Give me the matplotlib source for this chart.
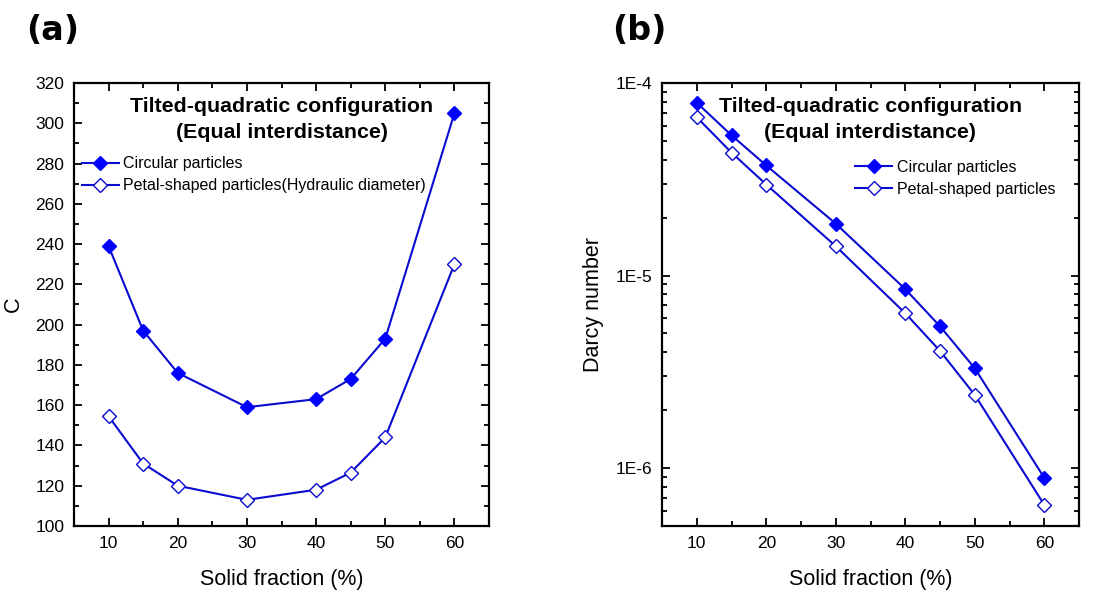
import numpy as np
import matplotlib
matplotlib.use("Agg")
import matplotlib.pyplot as plt
from matplotlib.ticker import MultipleLocator, FixedLocator, FuncFormatter, LogLocator, NullFormatter

plt.rcParams['font.family'] = ['Liberation Sans', 'DejaVu Sans']

# data
solid_fraction = [10, 15, 20, 30, 40, 45, 50, 60]
c_circular = [239, 197, 176, 159, 163, 173, 193, 305]
c_petal = [154.5, 131, 120, 113, 118, 126.5, 144, 230]
da_circular = [7.9e-5, 5.35e-5, 3.73e-5, 1.86e-5, 8.5e-6, 5.45e-6, 3.3e-6, 8.9e-7]
da_petal = [6.64e-5, 4.35e-5, 2.97e-5, 1.42e-5, 6.37e-6, 4.06e-6, 2.40e-6, 6.44e-7]

title_txt = "Tilted-quadratic configuration\n(Equal interdistance)"
line_col = "#0a0ad0"
fill_col = "#0000ff"

fig = plt.figure(figsize=(11.16, 5.91), dpi=100)
W, H = 1116, 591
ax1 = fig.add_axes([74 / W, 1 - 526 / H, (489 - 74) / W, (526 - 83) / H])
ax2 = fig.add_axes([662 / W, 1 - 526 / H, (1079 - 662) / W, (526 - 83) / H])


def style_axes(ax):
    for s in ax.spines.values():
        s.set_linewidth(1.6)
    ax.tick_params(which='both', direction='in', top=True, right=True,
                   labelsize=12.5, width=1.3, pad=7)
    ax.tick_params(which='major', length=6)
    ax.tick_params(which='minor', length=3.5)
    ax.set_xlim(5, 65)
    ax.xaxis.set_major_locator(FixedLocator([10, 20, 30, 40, 50, 60]))
    ax.xaxis.set_minor_locator(MultipleLocator(5))
    ax.set_xlabel("Solid fraction (%)", fontsize=15.5, labelpad=13)


# (a)
ax1.plot(solid_fraction, c_circular, color=line_col, lw=1.5, marker='D', ms=7.5,
         mfc=fill_col, mec=fill_col, label="Circular particles")
ax1.plot(solid_fraction, c_petal, color=line_col, lw=1.5, marker='D', ms=7.5,
         mfc='white', mec=line_col, mew=1.0,
         label="Petal-shaped particles(Hydraulic diameter)")
style_axes(ax1)
ax1.set_ylim(100, 320)
ax1.yaxis.set_major_locator(MultipleLocator(20))
ax1.yaxis.set_minor_locator(MultipleLocator(10))
ax1.set_ylabel("C", fontsize=15.5, labelpad=8)
ax1.text(0.5, (526 - 119.5) / 443, title_txt, transform=ax1.transAxes, ha='center', va='center',
         fontsize=15.4, fontweight='bold', linespacing=1.4)
ax1.legend(loc='upper left', bbox_to_anchor=(-0.008, 0.86), frameon=False,
           fontsize=11.5, handlelength=2.3, handletextpad=0.3, labelspacing=0.45,
           borderpad=0.2)

# (b)
ax2.semilogy(solid_fraction, da_circular, color=line_col, lw=1.5, marker='D', ms=7.5,
             mfc=fill_col, mec=fill_col, label="Circular particles")
ax2.semilogy(solid_fraction, da_petal, color=line_col, lw=1.5, marker='D', ms=7.5,
             mfc='white', mec=line_col, mew=1.0, label="Petal-shaped particles")
style_axes(ax2)
ax2.set_ylim(5e-7, 1e-4)
ax2.yaxis.set_major_locator(LogLocator(base=10, numticks=10))
ax2.yaxis.set_minor_locator(LogLocator(base=10, subs=np.arange(2, 10), numticks=10))
ax2.yaxis.set_minor_formatter(NullFormatter())
ax2.yaxis.set_major_formatter(FuncFormatter(lambda v, p: "1E%d" % int(round(np.log10(v)))))
ax2.set_ylabel("Darcy number", fontsize=15.5, labelpad=8)
ax2.text(0.5, (526 - 119.5) / 443, title_txt, transform=ax2.transAxes, ha='center', va='center',
         fontsize=15.4, fontweight='bold', linespacing=1.4)
ax2.legend(loc='upper left', bbox_to_anchor=((855 - 662 - 11) / 417, 0.852), frameon=False,
           fontsize=11.5, handlelength=2.3, handletextpad=0.3, labelspacing=0.45,
           borderpad=0.2)

fig.text(26 / W, 1 - 31 / H, "(a)", fontsize=24, fontweight='bold', va='center',
         family=['DejaVu Sans'])
fig.text(612 / W, 1 - 31 / H, "(b)", fontsize=24, fontweight='bold', va='center',
         family=['DejaVu Sans'])

fig.savefig("out.png", dpi=100)
